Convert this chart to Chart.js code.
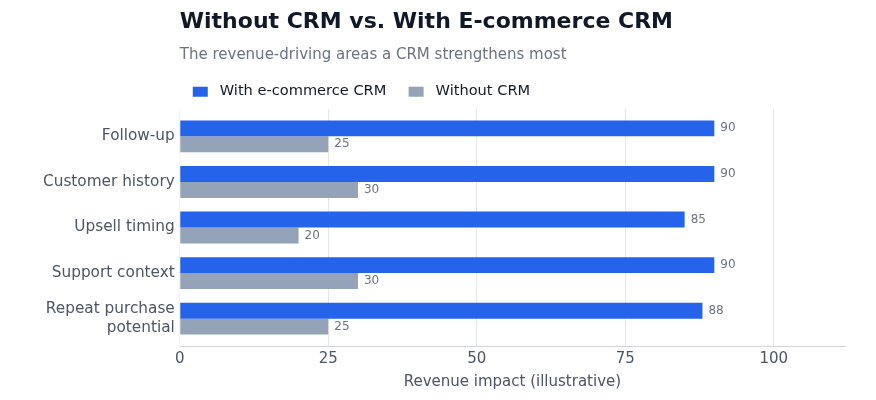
<!DOCTYPE html>
<html><head><meta charset="utf-8">
<script src="https://cdn.jsdelivr.net/npm/chart.js@4"></script>
<style>html,body{margin:0;padding:0;background:#fff;}#wrap{width:876px;height:400px;}</style>
</head><body><div id="wrap"><canvas id="c" width="876" height="400"></canvas></div>
<script>
const categories = ["Follow-up", "Customer history", "Upsell timing", "Support context", ["Repeat purchase", "potential"]];
const withCRM = [90, 90, 85, 90, 88];
const withoutCRM = [25, 30, 20, 30, 25];
const xTicks = [0, 25, 50, 75, 100];
const seriesNames = ["With e-commerce CRM", "Without CRM"];

const valueLabels = {
  id: 'valueLabels',
  afterDatasetsDraw(chart) {
    const ctx = chart.ctx;
    ctx.save();
    ctx.font = '12px "DejaVu Sans"';
    ctx.fillStyle = '#6b7280';
    ctx.textAlign = 'left';
    ctx.textBaseline = 'middle';
    chart.data.datasets.forEach((ds, i) => {
      chart.getDatasetMeta(i).data.forEach((bar, j) => {
        ctx.fillText(String(ds.data[j]), bar.x + 6, bar.y);
      });
    });
    ctx.restore();
  }
};

new Chart(document.getElementById('c'), {
  type: 'bar',
  data: {
    labels: categories,
    datasets: [
      { label: seriesNames[0], data: withCRM, backgroundColor: '#2563eb', barPercentage: 1, categoryPercentage: 0.7 },
      { label: seriesNames[1], data: withoutCRM, backgroundColor: '#94a3b8', barPercentage: 1, categoryPercentage: 0.7 }
    ]
  },
  options: {
    indexAxis: 'y',
    responsive: false,
    animation: false,
    layout: { padding: { left: 38, right: 31, top: 0, bottom: 5 } },
    plugins: {
      title: { display: true, text: 'Without CRM vs. With E-commerce CRM', align: 'start', fullSize: false, color: '#111827', font: { family: 'DejaVu Sans', size: 22, weight: 'bold' }, padding: { top: 9, bottom: 6 } },
      subtitle: { display: true, text: 'The revenue-driving areas a CRM strengthens most', align: 'start', fullSize: false, color: '#6b7280', font: { family: 'DejaVu Sans', size: 15 }, padding: { top: 5, bottom: 7 } },
      legend: {
        position: 'top', align: 'start', fullSize: false,
        labels: {
          color: '#111827', boxWidth: 15, boxHeight: 10, padding: 13,
          font: { family: 'DejaVu Sans', size: 14.6 },
          generateLabels(chart) {
            return Chart.defaults.plugins.legend.labels.generateLabels(chart).map(it => ({ ...it, text: ' ' + it.text + '  ', lineWidth: 0 }));
          }
        }
      },
      tooltip: { enabled: false }
    },
    scales: {
      x: {
        min: 0, max: 112,
        afterBuildTicks(scale) { scale.ticks = xTicks.map(v => ({ value: v })); },
        grid: { color: '#e5e7eb', drawTicks: false },
        border: { display: true, color: '#d1d5db' },
        ticks: { color: '#4b5563', padding: 4, font: { family: 'DejaVu Sans', size: 15 } },
        title: { display: true, text: 'Revenue impact (illustrative)', color: '#4b5563', font: { family: 'DejaVu Sans', size: 15 }, padding: { top: 1, bottom: 4 } }
      },
      y: {
        afterBuildTicks(scale) { scale._startValue = -0.6; scale._valueRange = categories.length + 0.2; },
        grid: { display: false, drawTicks: false },
        border: { display: true, color: '#f3f4f6' },
        ticks: { color: '#4b5563', padding: 5, font: { family: 'DejaVu Sans', size: 15.3 } }
      }
    }
  },
  plugins: [valueLabels]
});
</script></body></html>
